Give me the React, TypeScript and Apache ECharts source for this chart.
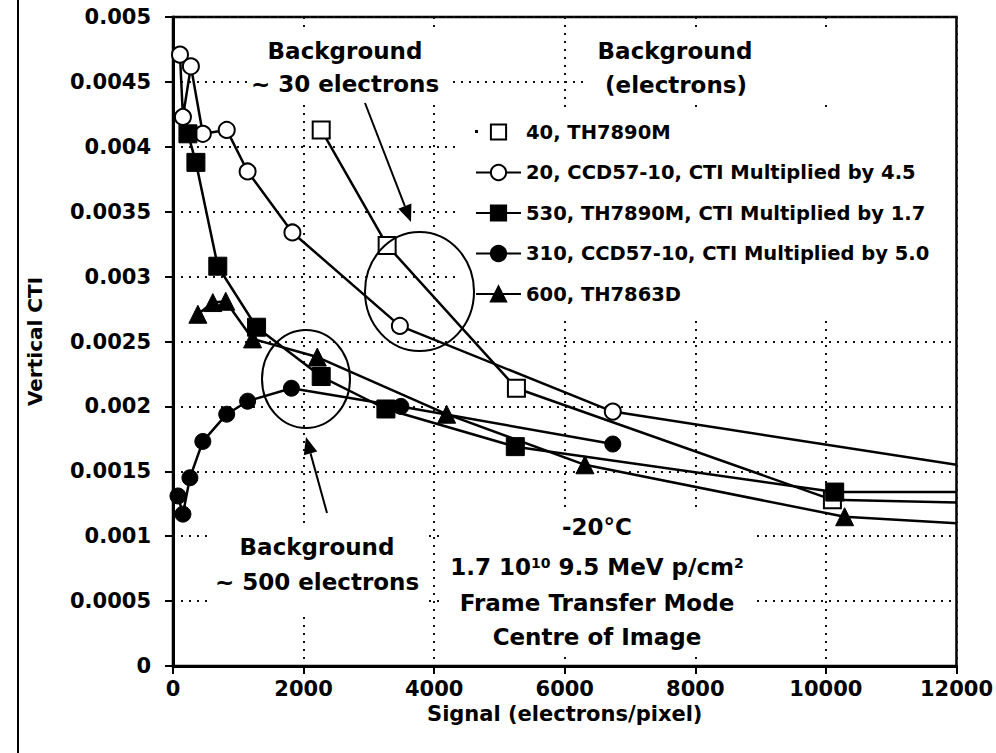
import React, { useEffect, useRef } from 'react';
import * as echarts from 'echarts';

const FONT = '"DejaVu Sans", "Liberation Sans", sans-serif';

const X_MAX = 12000;
const xTickLabels = ['0', '2000', '4000', '6000', '8000', '10000', '12000'];
const yTickLabels = ['0', '0.0005', '0.001', '0.0015', '0.002', '0.0025', '0.003', '0.0035', '0.004', '0.0045', '0.005'];

const seriesNames = [
  '40, TH7890M',
  '20, CCD57-10, CTI Multiplied by 4.5',
  '530, TH7890M, CTI Multiplied by 1.7',
  '310, CCD57-10, CTI Multiplied by 5.0',
  '600, TH7863D',
];

// 40, TH7890M (open squares)
const sqOpenX = [2270, 3280, 5260, 10100, 12000];
const sqOpenY = [0.00413, 0.00324, 0.00214, 0.00128, 0.00126];
// 20, CCD57-10 x4.5 (open circles)
const circOpenX = [107, 152, 274, 457, 823, 1143, 1829, 3475, 6736, 12000];
const circOpenY = [0.00471, 0.00423, 0.00462, 0.0041, 0.00413, 0.00381, 0.00334, 0.00262, 0.00196, 0.00155];
// 530, TH7890M x1.7 (filled squares)
const sqFillX = [229, 351, 686, 1280, 2270, 3261, 5243, 10135, 12000];
const sqFillY = [0.0041, 0.00388, 0.00308, 0.00261, 0.00223, 0.00198, 0.00169, 0.00134, 0.00134];
// 310, CCD57-10 x5.0 (filled circles)
const circFillX = [76, 152, 259, 457, 823, 1143, 1814, 3490, 6736];
const circFillY = [0.00131, 0.00117, 0.00145, 0.00173, 0.00194, 0.00204, 0.00214, 0.002, 0.00171];
// 600, TH7863D (triangles)
const triX = [381, 610, 808, 1219, 2210, 4191, 6309, 10287, 12000];
const triY = [0.00271, 0.0028, 0.00281, 0.00252, 0.00238, 0.00194, 0.00155, 0.00115, 0.0011];

const toData = (xs: number[], ys: number[]) =>
  xs.map((x, i) => (x >= X_MAX ? { value: [x, ys[i]], symbol: 'none' } : { value: [x, ys[i]] }));

const lineSeries = (name: string, xs: number[], ys: number[], symbol: string, size: number, filled: boolean) => ({
  type: 'line',
  name,
  data: toData(xs, ys),
  symbol,
  symbolSize: size,
  showSymbol: true,
  clip: true,
  lineStyle: { color: '#000', width: 2.5 },
  itemStyle: filled
    ? { color: '#000', borderColor: '#000', borderWidth: 1 }
    : { color: '#fff', borderColor: '#000', borderWidth: 2 },
  emphasis: { disabled: true },
});

const box = (x1: number, y1: number, x2: number, y2: number) => ({
  type: 'rect',
  z: 1,
  silent: true,
  shape: { x: x1, y: y1, width: x2 - x1, height: y2 - y1 },
  style: { fill: '#fff' },
});

const txt = (text: string, cx: number, cy: number) => ({
  type: 'text',
  z: 6,
  x: cx,
  y: cy,
  silent: true,
  style: {
    text,
    font: `bold 23px ${FONT}`,
    fill: '#000',
    align: 'center',
    verticalAlign: 'middle',
    textAlign: 'center',
    textVerticalAlign: 'middle',
  },
});

const arrow = (tx: number, ty: number, hx: number, hy: number) => {
  const dx = hx - tx;
  const dy = hy - ty;
  const len = Math.sqrt(dx * dx + dy * dy);
  const ux = dx / len;
  const uy = dy / len;
  const hl = 17;
  const hw = 7;
  const bx = hx - hl * ux;
  const by = hy - hl * uy;
  const px = -uy * hw;
  const py = ux * hw;
  return [
    { type: 'line', z: 6, silent: true, shape: { x1: tx, y1: ty, x2: bx, y2: by }, style: { stroke: '#000', lineWidth: 2 } },
    {
      type: 'polygon',
      z: 6,
      silent: true,
      shape: { points: [[hx, hy], [bx + px, by + py], [bx - px, by - py]] },
      style: { fill: '#000' },
    },
  ];
};

const ellipse = (cx: number, cy: number, rx: number, ry: number) => ({
  type: 'ellipse',
  z: 6,
  silent: true,
  shape: { cx, cy, rx, ry },
  style: { fill: 'none', stroke: '#000', lineWidth: 2 },
});

export default function App() {
  const ref = useRef<HTMLDivElement>(null);
  useEffect(() => {
    const chart = echarts.init(ref.current!, null, { renderer: 'svg' });
    const option: any = {
      animation: false,
      backgroundColor: '#fff',
      grid: {
        left: 173,
        right: 36,
        top: 17,
        bottom: 87,
        show: true,
        borderColor: '#000',
        borderWidth: 2.5,
        backgroundColor: 'transparent',
      },
      xAxis: {
        type: 'value',
        min: 0,
        max: X_MAX,
        interval: 2000,
        name: 'Signal (electrons/pixel)',
        nameLocation: 'middle',
        nameGap: 36,
        nameTextStyle: { fontWeight: 'bold', fontSize: 21, fontFamily: FONT, color: '#000' },
        axisLine: { show: true, lineStyle: { color: '#000', width: 3 } },
        axisTick: { show: true, inside: false, length: 8, lineStyle: { color: '#000', width: 2 } },
        axisLabel: {
          margin: 12,
          color: '#000',
          fontWeight: 'bold',
          fontSize: 21,
          fontFamily: FONT,
          formatter: (_v: number, i: number) => xTickLabels[i],
        },
        splitLine: { show: true, lineStyle: { color: '#111', width: 2, type: [2, 6] } },
      },
      yAxis: {
        type: 'value',
        min: 0,
        max: 0.005,
        interval: 0.0005,
        name: 'Vertical CTI',
        nameLocation: 'middle',
        nameGap: 128,
        nameTextStyle: { fontWeight: 'bold', fontSize: 20, fontFamily: FONT, color: '#000' },
        axisLine: { show: true, lineStyle: { color: '#000', width: 3 } },
        axisTick: { show: true, inside: false, length: 8, lineStyle: { color: '#000', width: 2 } },
        axisLabel: {
          margin: 22,
          color: '#000',
          fontWeight: 'bold',
          fontSize: 21,
          fontFamily: FONT,
          formatter: (_v: number, i: number) => yTickLabels[i],
        },
        splitLine: { show: true, lineStyle: { color: '#111', width: 2, type: [2, 6] } },
      },
      legend: {
        show: true,
        orient: 'vertical',
        left: 470,
        top: 117,
        itemWidth: 45,
        itemHeight: 19,
        itemGap: 20.5,
        selectedMode: false,
        textStyle: { fontWeight: 'bold', fontSize: 19.5, fontFamily: FONT, color: '#000' },
        data: [
          { name: seriesNames[0], lineStyle: { opacity: 0, width: 0 } },
          { name: seriesNames[1] },
          { name: seriesNames[2] },
          { name: seriesNames[3] },
          { name: seriesNames[4] },
        ],
      },
      series: [
        lineSeries(seriesNames[0], sqOpenX, sqOpenY, 'rect', 17, false),
        lineSeries(seriesNames[1], circOpenX, circOpenY, 'circle', 16, false),
        lineSeries(seriesNames[2], sqFillX, sqFillY, 'rect', 18, true),
        lineSeries(seriesNames[3], circFillX, circFillY, 'circle', 16, true),
        lineSeries(seriesNames[4], triX, triY, 'triangle', 18, true),
      ],
      graphic: {
        elements: [
          // left frame line
          { type: 'line', z: 6, silent: true, shape: { x1: 18, y1: 0, x2: 18, y2: 753 }, style: { stroke: '#000', lineWidth: 2 } },
          // white text boxes that mask the grid
          box(250, 32, 447, 104),
          box(587, 32, 952, 104),
          box(457, 110, 952, 315),
          box(207, 527, 427, 614),
          box(445, 507, 752, 655),
          // legend dot
          { type: 'rect', z: 6, silent: true, shape: { x: 475, y: 130, width: 3, height: 3 }, style: { fill: '#000' } },
          txt('Background', 345, 51),
          txt('~ 30 electrons', 345, 84),
          txt('Background', 675, 51),
          txt('(electrons)', 676, 85),
          txt('Background', 317, 547),
          txt('~ 500 electrons', 317, 582),
          txt('-20°C', 597, 527),
          {
            type: 'text',
            z: 6,
            x: 597,
            y: 567,
            silent: true,
            style: {
              text: '1.7 10{sup|10} 9.5 MeV p/cm{sup|2}',
              font: `bold 23px ${FONT}`,
              fill: '#000',
              align: 'center',
              verticalAlign: 'middle',
              textAlign: 'center',
              textVerticalAlign: 'middle',
              rich: {
                sup: { font: `bold 14px ${FONT}`, fill: '#000', verticalAlign: 'top', lineHeight: 14 },
              },
            },
          },
          txt('Frame Transfer Mode', 597, 603),
          txt('Centre of Image', 597, 637),
          ellipse(419.5, 291.5, 54.5, 59.5),
          ellipse(306, 379, 44, 49),
          ...arrow(365, 103, 411, 222),
          ...arrow(327, 513, 306, 437),
        ],
      },
    };
    chart.setOption(option);
    return () => chart.dispose();
  }, []);
  return (
    <div
      ref={ref}
      style={{ position: 'fixed', left: 0, top: 0, width: 996, height: 753, background: '#fff' }}
    />
  );
}
